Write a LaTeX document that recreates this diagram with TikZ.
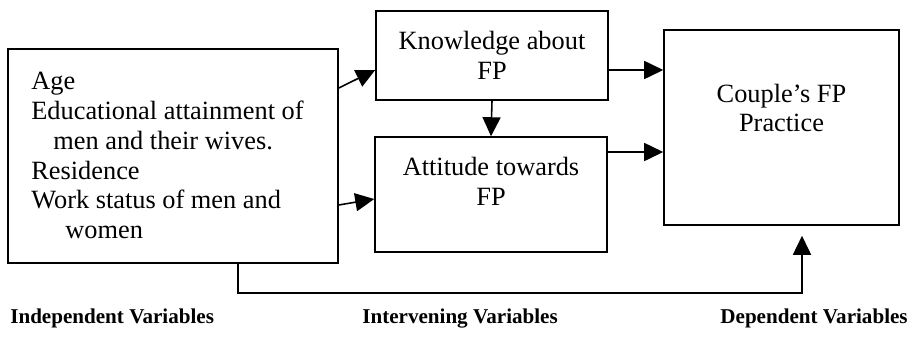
\documentclass[tikz,border=0pt]{standalone}
\usepackage{fontspec}
\setmainfont{Liberation Serif}
\usetikzlibrary{arrows.meta}

\tikzset{
  box/.style={draw,line width=0.9pt,inner sep=0pt},
  arr/.style={line width=0.9pt,-{Triangle[length=0.38cm,width=0.36cm]}},
  txt/.style={font=\fontsize{15}{17}\selectfont,align=center,inner sep=0pt},
  head/.style={font=\fontsize{12}{14}\selectfont\bfseries,inner sep=0pt}
}

\begin{document}
\begin{tikzpicture}[x=0.02cm,y=0.02cm]
\useasboundingbox (0,0) rectangle (918,336);
% boxes
\node[box,minimum width=6.6cm,minimum height=4.28cm] (indep) at (173,180) {};
\node[box,minimum width=4.64cm,minimum height=1.78cm] (know) at (492,280.5) {};
\node[box,minimum width=4.64cm,minimum height=2.3cm] (att) at (491,141.5) {};
\node[box,minimum width=4.7cm,minimum height=3.9cm] (cpl) at (781.5,208.5) {};
% texts in the boxes
\node[txt,align=left,anchor=west] (indtext) at (31,180.5) {Age\\Educational attainment of\\\hspace*{0.44cm}men and their wives.\\Residence\\Work status of men and\\\hspace*{0.68cm}women};
\node[txt] (knowtext) at (know.center) {Knowledge about\\FP};
\node[txt] (atttext) at ([yshift=0.27cm]att.center) {Attitude towards\\FP};
\node[txt] (cpltext) at ([yshift=0.39cm]cpl.center) {Couple’s FP\\Practice};
% arrows
\draw[arr] ([yshift=1.36cm]indep.east) -- ([yshift=-0.29cm]know.west);
\draw[arr] ([yshift=-0.98cm]indep.east) -- ([yshift=-0.09cm]att.west);
\draw[arr] ([yshift=-0.29cm]know.east) -- ([yshift=-0.29cm]know.east -| cpl.west);
\draw[arr] ([yshift=0.85cm]att.east) -- ([yshift=0.85cm]att.east -| cpl.west);
\draw[arr] (know.south) -- (att.north);
% bottom line
\coordinate (low) at (0,43);
\draw[arr,shorten >=0.2cm] ([xshift=1.3cm]indep.south) -- ([xshift=1.3cm]indep.south |- low) -| ([xshift=0.41cm]cpl.south);
% labels
\node[head,anchor=base west] (indlab) at (10,13) {Independent Variables};
\node[head,anchor=base west] (intlab) at (362,13) {Intervening Variables};
\node[head,anchor=base east] (deplab) at (908,13) {Dependent Variables};
\end{tikzpicture}
\end{document}
